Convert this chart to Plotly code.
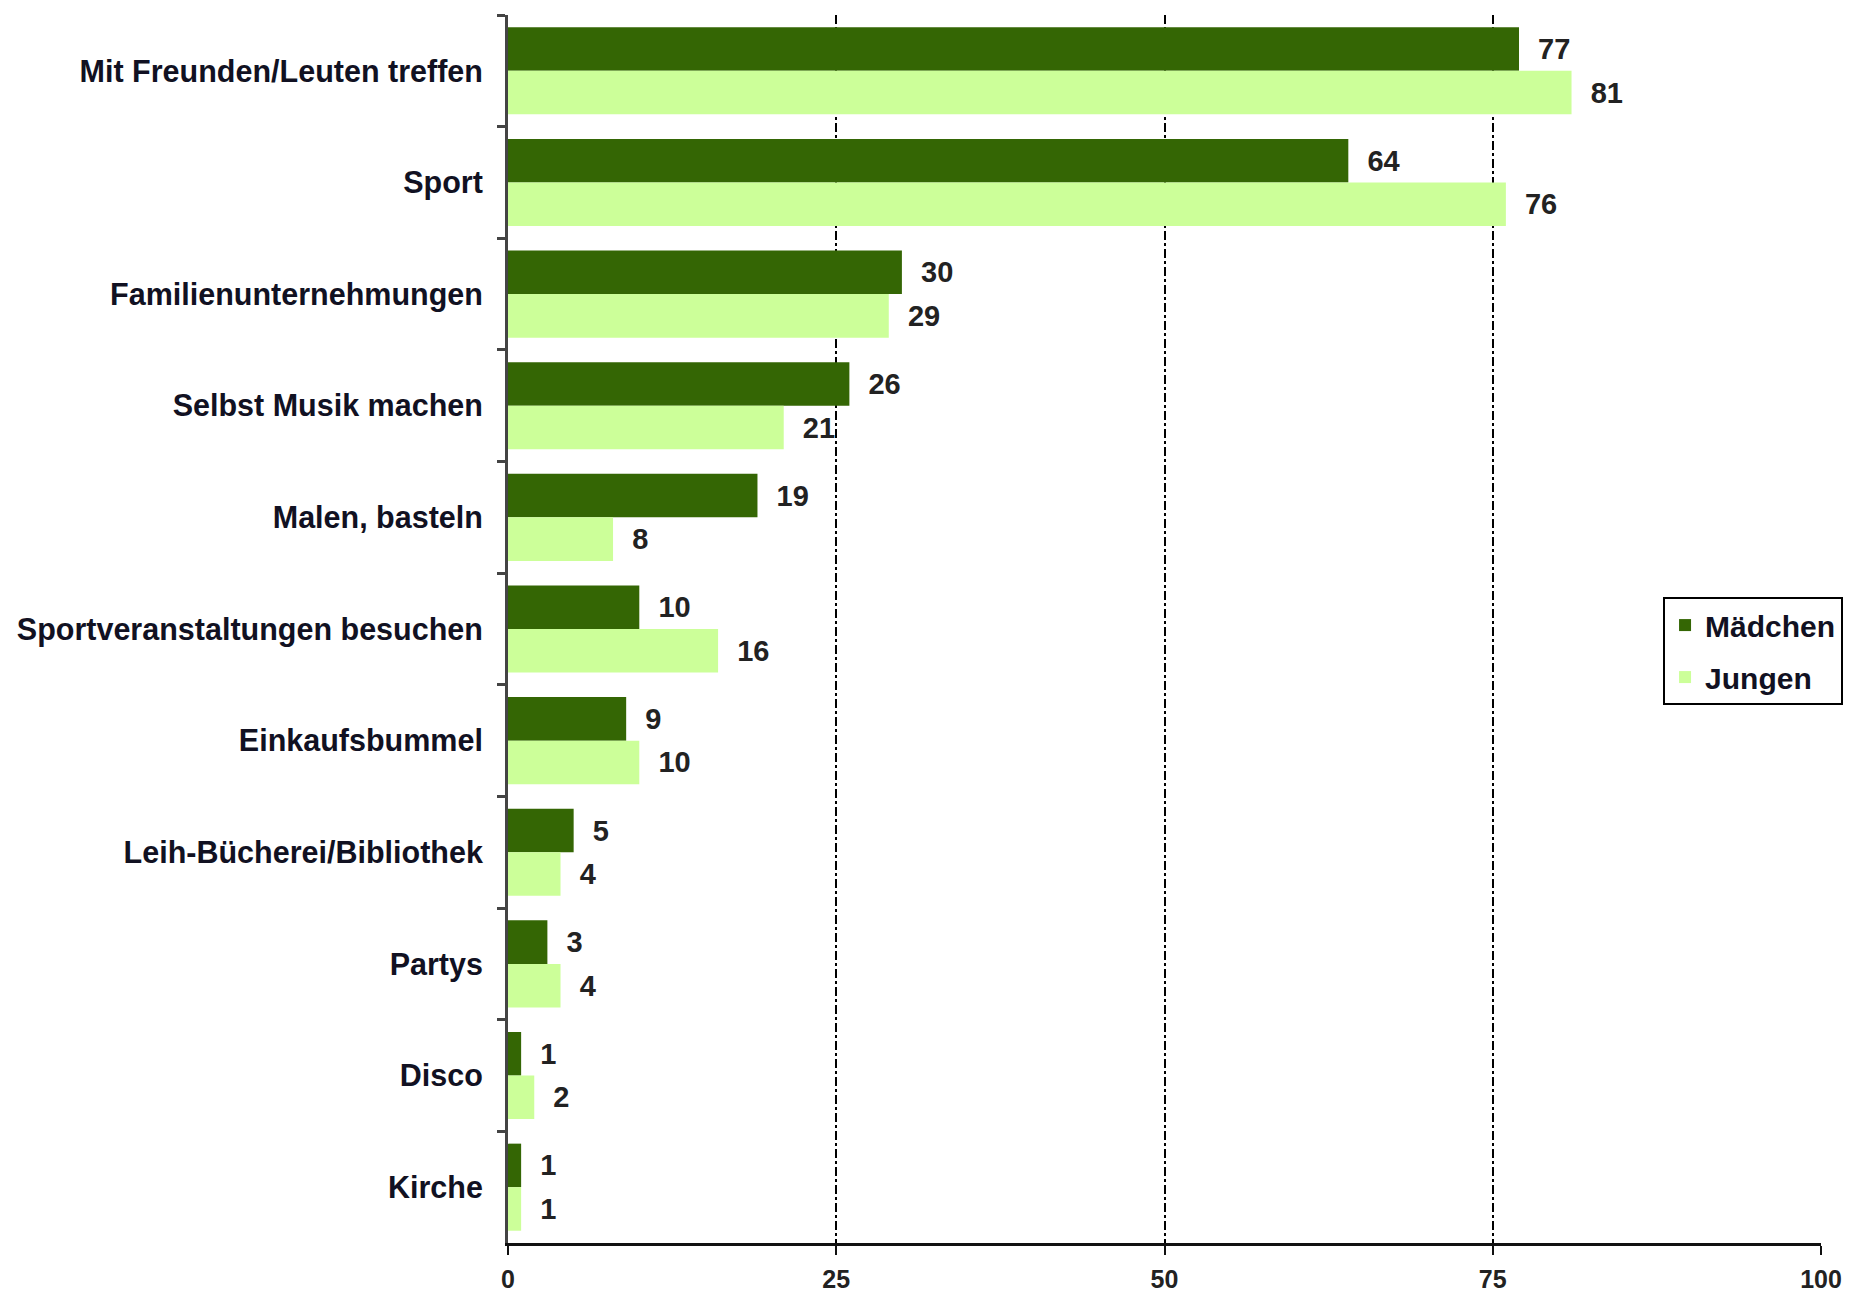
import plotly.graph_objects as go

categories = [
    "Mit Freunden/Leuten treffen",
    "Sport",
    "Familienunternehmungen",
    "Selbst Musik machen",
    "Malen, basteln",
    "Sportveranstaltungen besuchen",
    "Einkaufsbummel",
    "Leih-Bücherei/Bibliothek",
    "Partys",
    "Disco",
    "Kirche",
]
maedchen = [77, 64, 30, 26, 19, 10, 9, 5, 3, 1, 1]
jungen = [81, 76, 29, 21, 8, 16, 10, 4, 4, 2, 1]
x_ticks = [0, 25, 50, 75, 100]

FONT = "Liberation Sans, Arial, sans-serif"
PAD = "\u00a0\u00a0"

fig = go.Figure()
fig.add_trace(go.Bar(
    name="Mädchen", y=categories, x=maedchen, orientation="h",
    legendgroup="m",
    marker=dict(color="#346604", line=dict(width=0)),
    text=[PAD + str(v) for v in maedchen], textposition="outside",
    textfont=dict(family=FONT, size=29, color="#222222", weight="bold"),
    cliponaxis=False,
))
fig.add_trace(go.Bar(
    name="Jungen", y=categories, x=jungen, orientation="h",
    legendgroup="j",
    marker=dict(color="#ccff99", line=dict(width=0)),
    text=[PAD + str(v) for v in jungen], textposition="outside",
    textfont=dict(family=FONT, size=29, color="#222222", weight="bold"),
    cliponaxis=False,
))

fig.update_layout(
    width=1868, height=1294, autosize=False,
    margin=dict(l=508, r=47, t=15, b=51, autoexpand=False),
    paper_bgcolor="white", plot_bgcolor="white",
    barmode="group", bargap=0.22, bargroupgap=0,
    font=dict(family=FONT, size=30, color="#111111", weight="bold"),
    showlegend=True,
    legend=dict(
        x=0.8797, y=0.526, xanchor="left", yanchor="top",
        bgcolor="white", bordercolor="#000000", borderwidth=2,
        traceorder="grouped", tracegroupgap=10,
        font=dict(family=FONT, size=30, color="#111122", weight="bold"),
        itemwidth=30,
    ),
)

fig.update_xaxes(
    range=[0, 100], tickvals=x_ticks, ticktext=[str(t) for t in x_ticks],
    showgrid=True, gridcolor="#000000", gridwidth=1.5, griddash="dashdot",
    showline=True, linecolor="#111111", linewidth=3,
    ticks="outside", ticklen=9, tickwidth=2, tickcolor="#111111",
    ticklabelstandoff=3, automargin=False,
    tickfont=dict(family=FONT, size=25, color="#222222", weight="bold"),
    zeroline=False, fixedrange=True,
)
fig.update_yaxes(
    categoryorder="array", categoryarray=categories,
    range=[len(categories) - 0.5, -0.5], autorange=False,
    showline=True, linecolor="#444444", linewidth=3,
    ticks="outside", ticklen=8, tickwidth=3, tickcolor="#444444",
    tickson="boundaries", ticklabelstandoff=16, automargin=False,
    tickfont=dict(family=FONT, size=30.5, color="#111122", weight="bold"),
    showgrid=False, zeroline=False, fixedrange=True,
)

fig.write_html(
    "out.html",
    config={"displayModeBar": False},
    post_script="document.body.style.margin='0';",
)
